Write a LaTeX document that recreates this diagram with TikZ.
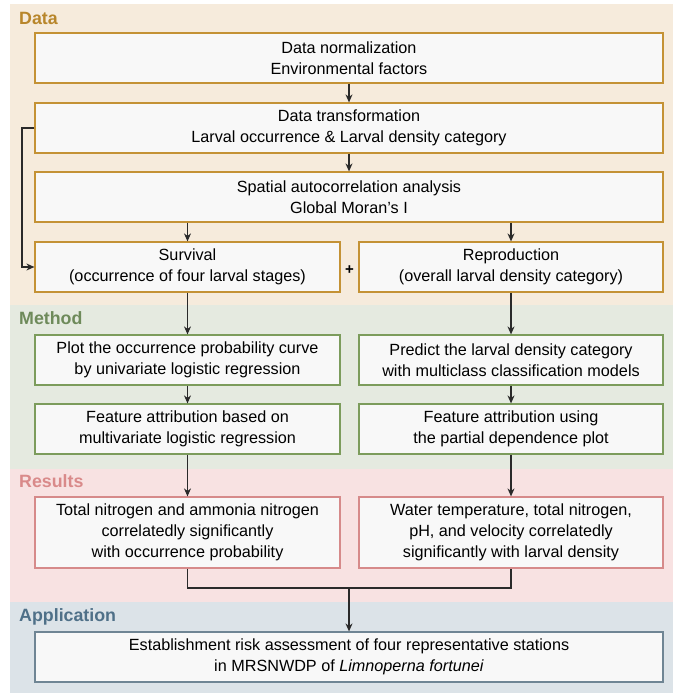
\documentclass[tikz,border=0pt]{standalone}
\usepackage{fontspec}
\setmainfont{Liberation Sans}
\usetikzlibrary{arrows.meta}
\definecolor{databand}{HTML}{F6EBDC}
\definecolor{databord}{HTML}{C49235}
\definecolor{datatext}{HTML}{B8862B}
\definecolor{methband}{HTML}{E5EAE0}
\definecolor{methbord}{HTML}{7C9C5C}
\definecolor{methtext}{HTML}{6E8A5A}
\definecolor{resband}{HTML}{F8E2E2}
\definecolor{resbord}{HTML}{D68A8A}
\definecolor{restext}{HTML}{D98A8A}
\definecolor{appband}{HTML}{DCE3E8}
\definecolor{appbord}{HTML}{6F8594}
\definecolor{apptext}{HTML}{4F7088}
\definecolor{boxfill}{HTML}{F8F8F8}
\definecolor{arrowcol}{HTML}{2A2A2A}
\tikzset{
  box/.style={draw, line width=1.2pt, fill=boxfill, align=center, inner sep=1pt,
    font=\fontsize{16.2}{20.8}\selectfont, text=black},
  fullbox/.style={box, minimum width=628pt, minimum height=50pt},
  halfbox/.style={box, minimum width=305pt, minimum height=50pt},
  databox/.style={draw=databord},
  methbox/.style={draw=methbord},
  resbox/.style={draw=resbord},
  appbox/.style={draw=appbord},
  bandlabel/.style={anchor=west, font=\fontsize{17.8}{19}\selectfont\bfseries, inner sep=0pt},
  conn/.style={draw=arrowcol, line width=1.1pt, -{Stealth[length=8pt,width=7pt]}},
  plainconn/.style={draw=arrowcol, line width=1.1pt}
}
\begin{document}
\begin{tikzpicture}[x=1pt,y=-1pt]
\useasboundingbox (0,0) rectangle (684,700);
\fill[white] (0,0) rectangle (684,700);
% bands
\fill[databand] (10,4) rectangle (673,305);
\fill[methband] (10,305) rectangle (673,469);
\fill[resband] (10,469) rectangle (673,602);
\fill[appband] (10,602) rectangle (673,693);
% labels
\node[bandlabel, text=datatext] (ldata) at (19,18) {Data};
\node[bandlabel, text=methtext] (lmeth) at (19,318) {Method};
\node[bandlabel, text=restext] (lres) at (19,481) {Results};
\node[bandlabel, text=apptext] (lapp) at (19,617) {Application};
% Data boxes
\node[fullbox, databox] (norm) at (349,58) {Data normalization\\Environmental factors};
\node[fullbox, databox] (trans) at (349,128) {Data transformation\\Larval occurrence \& Larval density category};
\node[fullbox, databox] (spat) at (349,197) {Spatial autocorrelation analysis\\Global Moran's I};
\node[halfbox, databox] (surv) at (187.5,267) {Survival\\(occurrence of four larval stages)};
\node[halfbox, databox, minimum width=304pt] (repr) at (511,267) {Reproduction\\(overall larval density category)};
\node[font=\fontsize{15}{16}\selectfont\bfseries, inner sep=0pt] (plus) at (349.5,270) {+};
% Method boxes
\node[halfbox, methbox] (plot) at (187.5,360) {Plot the occurrence probability curve\\by univariate logistic regression};
\node[halfbox, methbox, minimum width=304pt] (pred) at (511,360) {Predict the larval density category\\with multiclass classification models};
\node[halfbox, methbox] (feat1) at (187.5,429) {Feature attribution based on\\multivariate logistic regression};
\node[halfbox, methbox, minimum width=304pt] (feat2) at (511,429) {Feature attribution using\\the partial dependence plot};
% Results boxes
\node[halfbox, resbox, minimum height=71pt] (res1) at (187.5,532.5) {Total nitrogen and ammonia nitrogen\\correlatedly significantly\\with occurrence probability};
\node[halfbox, resbox, minimum width=304pt, minimum height=71pt] (res2) at (511,532.5) {Water temperature, total nitrogen,\\pH, and velocity correlatedly\\significantly with larval density};
% Application box
\node[fullbox, appbox] (app) at (349,657) {Establishment risk assessment of four representative stations\\in MRSNWDP of \textit{Limnoperna fortunei}};
% coordinates
\coordinate (fbA) at (22,128);
\coordinate (fbB) at (22,267);
\coordinate (merge) at (349,588);
% connectors
\draw[conn] (norm.south) -- (trans.north);
\draw[conn] (trans.south) -- (spat.north);
\draw[conn] (spat.south -| surv.north) -- (surv.north);
\draw[conn] (spat.south -| repr.north) -- (repr.north);
\draw[conn] (trans.west) -- (fbA) -- (fbB) -- (surv.west);
\draw[conn] (surv.south) -- (plot.north);
\draw[conn] (repr.south) -- (pred.north);
\draw[conn] (plot.south) -- (feat1.north);
\draw[conn] (pred.south) -- (feat2.north);
\draw[conn] (feat1.south) -- (res1.north);
\draw[conn] (feat2.south) -- (res2.north);
\draw[plainconn] (res1.south) |- (merge) -| (res2.south);
\draw[conn] (merge) -- (app.north);
\end{tikzpicture}
\end{document}
